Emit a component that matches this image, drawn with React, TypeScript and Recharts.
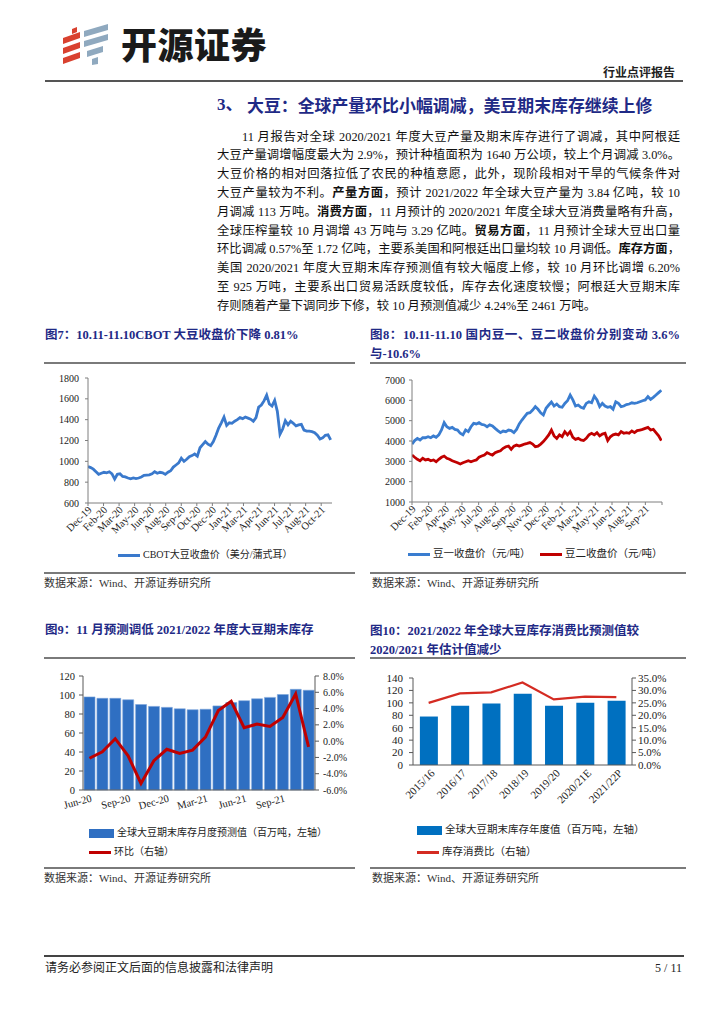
import React from 'react';
import { LineChart, Line, XAxis, YAxis, ComposedChart, Bar } from 'recharts';

// ---- data ----

// 图7: CBOT soybean close (US cents/bushel), sampled roughly weekly
const CBOT_PRICE = [
  950, 940, 925, 900, 875, 885, 895, 890, 900, 880,
  830, 875, 880, 855, 850, 840, 832, 840, 835, 840,
  850, 865, 868, 870, 880, 900, 885, 895, 890, 875,
  895, 910, 945, 965, 985, 1030, 1000, 1020, 1045, 1055,
  1070, 1050, 1130, 1160, 1190, 1165, 1150, 1190, 1250, 1320,
  1370, 1425, 1345, 1370, 1365, 1385, 1400, 1420, 1410, 1425,
  1415, 1405, 1385, 1420, 1520, 1540, 1580, 1635, 1550, 1530,
  1585, 1480, 1260, 1310, 1390, 1350, 1385, 1365, 1340, 1350,
  1355, 1300, 1290, 1290, 1285, 1275, 1250, 1215, 1225, 1250,
  1255, 1205,
];
const CBOT_LABELS = ['Dec-19', 'Feb-20', 'Mar-20', 'May-20', 'Jun-20', 'Aug-20', 'Sep-20', 'Oct-20',
  'Dec-20', 'Jan-21', 'Mar-21', 'Apr-21', 'Jun-21', 'Jul-21', 'Aug-21', 'Oct-21'];

// 图8: 豆一 / 豆二 close (元/吨)
const DOU1 = [
  3850, 4020, 4130, 4050, 4160, 4160, 4210, 4160, 4250, 4180,
  4300, 4540, 4900, 4700, 4620, 4670, 4570, 4540, 4380, 4300,
  4540, 4460, 4700, 4870, 4840, 4900, 4820, 4790, 4700, 4790,
  4740, 4620, 4510, 4410, 4490, 4460, 4540, 4510, 4410, 4570,
  4840, 5030, 5200, 5360, 5390, 5520, 5690, 5560, 5390, 5280,
  5610, 5770, 5920, 5720, 5820, 5690, 5660, 5850, 5980, 6260,
  6020, 5720, 5770, 5660, 5610, 5850, 5930, 5880, 6210, 6020,
  5690, 5850, 5720, 5660, 5690, 5560, 5930, 5850, 5690, 5720,
  5790, 5820, 5880, 5850, 5880, 5930, 5980, 6020, 6180, 6050,
  6150, 6260, 6380, 6500,
];
const DOU2 = [
  3310, 3200, 3100, 3030, 3150, 3070, 3100, 3030, 3070, 2980,
  3100, 3200, 3260, 3150, 3100, 3030, 2980, 2930, 2870, 2930,
  2980, 3030, 2980, 3030, 3070, 3200, 3260, 3310, 3430, 3360,
  3310, 3430, 3480, 3520, 3640, 3720, 3750, 3590, 3750, 3800,
  3750, 3800, 3850, 3880, 3920, 3850, 3720, 3750, 3850, 3970,
  4130, 4300, 4540, 4250, 4130, 4300, 4210, 4460, 4300, 4460,
  4180, 4080, 4130, 4050, 4020, 4130, 4300, 4380, 4300, 4410,
  4250, 4340, 4380, 4020, 4210, 4300, 4340, 4300, 4460, 4380,
  4410, 4380, 4490, 4410, 4510, 4540, 4570, 4620, 4670, 4540,
  4570, 4410, 4250, 4020,
];
const DOU_LABELS = ['Dec-19', 'Feb-20', 'Apr-20', 'May-20', 'Jul-20', 'Aug-20', 'Sep-20', 'Nov-20',
  'Dec-20', 'Feb-21', 'Mar-21', 'May-21', 'Jun-21', 'Aug-21', 'Sep-21'];

// 图9: monthly forecast of global ending stocks
const MONTHS = ['Jun-20', 'Jul-20', 'Aug-20', 'Sep-20', 'Oct-20', 'Nov-20', 'Dec-20', 'Jan-21', 'Feb-21',
  'Mar-21', 'Apr-21', 'May-21', 'Jun-21', 'Jul-21', 'Aug-21', 'Sep-21', 'Oct-21', 'Nov-21'];
const MONTH_STOCK = [98, 96.5, 96.5, 95, 90, 88, 87, 85.5, 84.5, 85, 88.5, 92, 94, 96, 97.5, 100.5, 106, 105];
const MONTH_MOM = [-2.1, -1.3, 0.3, -1.8, -5.2, -2.4, -1.0, -1.5, -1.1, 0.5, 3.75, 4.9, 1.65, 2.1, 1.8, 2.9, 5.8, -0.7];

// 图10: yearly ending stocks and stock/use ratio
const SEASONS = ['2015/16', '2016/17', '2017/18', '2018/19', '2019/20', '2020/21E', '2021/22P'];
const SEASON_STOCK = [78, 95.5, 99, 114.5, 95.5, 100, 103.5];
const SEASON_RATIO = [25.0, 28.8, 29.2, 33.2, 26.4, 27.5, 27.3];

const BODY = [
  '11 月报告对全球 2020/2021 年度大豆产量及期末库存进行了调减，其中阿根廷',
  '大豆产量调增幅度最大为 2.9%，预计种植面积为 1640 万公顷，较上个月调减 3.0%。',
  '大豆价格的相对回落拉低了农民的种植意愿，此外，现阶段相对干旱的气候条件对',
  '大豆产量较为不利。*产量方面*，预计 2021/2022 年全球大豆产量为 3.84 亿吨，较 10',
  '月调减 113 万吨。*消费方面*，11 月预计的 2020/2021 年度全球大豆消费量略有升高，',
  '全球压榨量较 10 月调增 43 万吨与 3.29 亿吨。*贸易方面*，11 月预计全球大豆出口量',
  '环比调减 0.57%至 1.72 亿吨，主要系美国和阿根廷出口量均较 10 月调低。*库存方面*，',
  '美国 2020/2021 年度大豆期末库存预测值有较大幅度上修，较 10 月环比调增 6.20%',
  '至 925 万吨，主要系出口贸易活跃度较低，库存去化速度较慢；阿根廷大豆期末库',
  '存则随着产量下调同步下修，较 10 月预测值减少 4.24%至 2461 万吨。',
];

const SERIF = "'Liberation Serif', 'Noto Sans CJK SC', serif";
const NAVY = '#1f2a86';
const AXIS = '#7f7f7f';
const DARK_AXIS = '#595959';

const cbotData = CBOT_PRICE.map((v, i) => ({ i, v }));
const CBOT_STEP = 5.83;
const CBOT_TICKS = CBOT_LABELS.map((_, k) => k * CBOT_STEP);

const douData = DOU1.map((v, i) => ({ i, a: v, b: DOU2[i] }));
const DOU_STEP = 6.217;
const DOU_TICKS = [...DOU_LABELS, ''].map((_, k) => k * DOU_STEP);

const monthData = MONTHS.map((m, i) => ({ m, s: MONTH_STOCK[i], r: MONTH_MOM[i] }));
const seasonData = SEASONS.map((m, i) => ({ m, s: SEASON_STOCK[i], r: SEASON_RATIO[i] }));

function angledTick(angle: number, fontSize: number, format: (v: any) => string, dx = 0, dy = 0) {
  return (p: any) => {
    const x = p.x + dx;
    const y = p.y + dy;
    return (
      <text x={x} y={y} transform={`rotate(${angle} ${x} ${y})`} textAnchor="end"
        dominantBaseline="central" fontSize={fontSize} fontFamily={SERIF} fill="#1a1a1a">
        {format(p.payload.value)}
      </text>
    );
  };
}

const abs = (left: number, top: number, extra: React.CSSProperties = {}): React.CSSProperties => ({
  position: 'absolute', left, top, whiteSpace: 'nowrap', ...extra,
});

const Rule = ({ left, top, width, h = 1.5, color = '#7a7a7a' }: any) => (
  <div style={abs(left, top, { width, height: h, background: color })} />
);

const Title = ({ left, top, children, width }: any) => (
  <div style={abs(left, top, {
    fontFamily: SERIF, fontWeight: 700, fontSize: 12.5, color: NAVY, lineHeight: '18px',
    width, textAlign: width ? 'justify' : 'left', textAlignLast: width ? 'justify' : 'auto',
  })}>{children}</div>
);

const Source = ({ left, top }: any) => (
  <div style={abs(left, top, { fontFamily: SERIF, fontSize: 11, color: '#333', lineHeight: '14px' })}>
    数据来源：Wind、开源证券研究所
  </div>
);

const LegendItem = ({ left, y, color, kind, text, size = 10.5 }: any) => (
  <>
    <div style={abs(left, kind === 'bar' ? y - 4.5 : y - 1.5, {
      width: kind === 'bar' ? 25 : 22, height: kind === 'bar' ? 9 : 3, background: color,
    })} />
    <div style={abs(left + (kind === 'bar' ? 28 : 25), y - 8, {
      fontFamily: SERIF, fontSize: size, lineHeight: '16px', color: '#222',
    })}>{text}</div>
  </>
);

const bodyLine = (s: string) =>
  s.split('*').map((part, k) => (k % 2 ? <b key={k}>{part}</b> : <span key={k}>{part}</span>));

const yTick = (size: number) => ({ fontSize: size, fill: '#1a1a1a', fontFamily: SERIF });

export default function App() {
  return (
    <div style={{ position: 'absolute', left: 0, top: 0, width: 724, height: 1024, background: '#fff', color: '#111' }}>
      {/* header */}
      <svg width={56} height={44} style={{ position: 'absolute', left: 58, top: 22 }}>
        <g fill="#d9412f">
          <polygon points="14,7 19,5 19,10 14,12" />
          <polygon points="5,16 22,10 22,16 5,22" />
          <polygon points="5,26 22,20 22,26 5,32" />
          <polygon points="5,36 22,30 22,36 5,42" />
        </g>
        <g fill="#8fa9bf">
          <polygon points="26,9 50,2 50,8 26,15" />
          <polygon points="26,19 50,12 50,18 26,25" />
          <polygon points="29,29 45,24 45,30 29,35" />
          <polygon points="34,37 40,35 40,42 34,43" />
        </g>
      </svg>
      <div style={abs(121, 19, { fontFamily: "'Noto Sans CJK SC'", fontWeight: 900, fontSize: 36, letterSpacing: 0.5, lineHeight: '48px', color: '#1a1a1a' })}>
        开源证券
      </div>
      <div style={abs(603, 64, { fontFamily: "'Noto Sans CJK SC'", fontWeight: 700, fontSize: 12, lineHeight: '16px', color: '#222' })}>
        行业点评报告
      </div>
      <Rule left={45} top={80} width={638} h={2} color="#555" />

      {/* section heading and text */}
      <div style={abs(217, 94, { fontFamily: SERIF, fontWeight: 700, fontSize: 17, color: NAVY, lineHeight: '22px' })}>3、</div>
      <div style={abs(247, 94, { fontFamily: "'Noto Sans CJK SC'", fontWeight: 700, fontSize: 16.9, color: NAVY, lineHeight: '22px' })}>
        大豆：全球产量环比小幅调减，美豆期末库存继续上修
      </div>
      {BODY.map((line, i) => (
        <div key={i} style={abs(i === 0 ? 242 : 217, 137 + 18.8 * i - 9.4, {
          width: i === 0 ? 438 : 463, fontFamily: SERIF, fontSize: 12.3, lineHeight: '18.8px', color: '#111',
          textAlign: 'justify', textAlignLast: i === BODY.length - 1 ? 'left' : 'justify',
        })}>{bodyLine(line)}</div>
      ))}

      {/* figure 7 */}
      <Title left={45} top={326}>图7：10.11-11.10CBOT 大豆收盘价下降 0.81%</Title>
      <Rule left={44} top={362} width={311} />
      <div style={{ position: 'absolute', left: 40, top: 370 }}>
        <LineChart width={300} height={178} data={cbotData} margin={{ top: 8, right: 8, left: 0, bottom: 0 }}>
          <XAxis dataKey="i" type="number" domain={[0, 91.5]} allowDataOverflow ticks={CBOT_TICKS} interval={0}
            height={45} tickSize={3} axisLine={{ stroke: AXIS }} tickLine={{ stroke: AXIS }}
            tick={angledTick(-45, 10.5, (v) => CBOT_LABELS[Math.round(v / CBOT_STEP)] ?? '', 2, 0)} />
          <YAxis domain={[600, 1800]} ticks={[600, 800, 1000, 1200, 1400, 1600, 1800]} interval={0} width={48} tickSize={3}
            tickMargin={6} axisLine={{ stroke: AXIS }} tickLine={{ stroke: AXIS }} tick={yTick(10)} />
          <Line dataKey="v" stroke="#3a79cc" strokeWidth={2.8} dot={false} isAnimationActive={false} />
        </LineChart>
      </div>
      <LegendItem left={118} y={555} color="#3a79cc" kind="line" text="CBOT大豆收盘价（美分/蒲式耳）" size={10} />
      <Rule left={44} top={572} width={311} />
      <Source left={44} top={576} />

      {/* figure 8 */}
      <Title left={370} top={326} width={310}>图8：10.11-11.10 国内豆一、豆二收盘价分别变动 3.6%</Title>
      <Title left={370} top={345}>与-10.6%</Title>
      <Rule left={370} top={362} width={316} />
      <div style={{ position: 'absolute', left: 360, top: 372 }}>
        <LineChart width={310} height={175} data={douData} margin={{ top: 8, right: 8, left: 0, bottom: 0 }}>
          <XAxis dataKey="i" type="number" domain={[0, 93.25]} allowDataOverflow ticks={DOU_TICKS} interval={0}
            height={45} tickSize={3} axisLine={{ stroke: AXIS }} tickLine={{ stroke: AXIS }}
            tick={angledTick(-45, 10.5, (v) => DOU_LABELS[Math.round(v / DOU_STEP)] ?? '', 2, 0)} />
          <YAxis domain={[1000, 7000]} ticks={[1000, 2000, 3000, 4000, 5000, 6000, 7000]} interval={0} width={52} tickSize={3}
            tickMargin={4} axisLine={{ stroke: AXIS }} tickLine={{ stroke: AXIS }} tick={yTick(10)} />
          <Line dataKey="a" stroke="#3a7dd0" strokeWidth={2.8} dot={false} isAnimationActive={false} />
          <Line dataKey="b" stroke="#c00000" strokeWidth={2.8} dot={false} isAnimationActive={false} />
        </LineChart>
      </div>
      <LegendItem left={408} y={554} color="#3a7dd0" kind="line" text="豆一收盘价（元/吨）" />
      <LegendItem left={540} y={554} color="#c00000" kind="line" text="豆二收盘价（元/吨）" />
      <Rule left={370} top={572} width={316} />
      <Source left={372} top={576} />

      {/* figure 9 */}
      <Title left={45} top={621}>图9：11 月预测调低 2021/2022 年度大豆期末库存</Title>
      <Rule left={44} top={657} width={311} />
      <div style={{ position: 'absolute', left: 40, top: 668 }}>
        <ComposedChart width={320} height={147} data={monthData} margin={{ top: 8, right: 0, left: 0, bottom: 0 }}
          barCategoryGap="8%">
          <XAxis dataKey="m" interval={2} height={25} tickSize={3} tickLine={false}
            axisLine={{ stroke: DARK_AXIS }} tick={angledTick(-15, 10.5, (v) => v, 2, 3)} />
          <YAxis yAxisId="l" domain={[0, 120]} ticks={[0, 20, 40, 60, 80, 100, 120]} interval={0} width={43} tickSize={4}
            tickMargin={4} axisLine={{ stroke: DARK_AXIS }} tickLine={{ stroke: DARK_AXIS }} tick={yTick(10.5)} />
          <YAxis yAxisId="r" orientation="right" domain={[-6, 8]} ticks={[-6, -4, -2, 0, 2, 4, 6, 8]} interval={0} width={45}
            tickSize={4} tickMargin={4} axisLine={{ stroke: DARK_AXIS }} tickLine={{ stroke: DARK_AXIS }}
            tick={yTick(10)} tickFormatter={(v) => `${v.toFixed(1)}%`} />
          <Bar yAxisId="l" dataKey="s" fill="#2f6fc2" stroke="#7ea6dc" strokeWidth={0.6} isAnimationActive={false} />
          <Line yAxisId="r" dataKey="r" stroke="#c00000" strokeWidth={3} dot={false} isAnimationActive={false} />
        </ComposedChart>
      </div>
      <LegendItem left={89} y={833} color="#2f6fc2" kind="bar" text="全球大豆期末库存月度预测值（百万吨，左轴）" size={10} />
      <LegendItem left={89} y={852} color="#c00000" kind="line" text="环比（右轴）" size={10} />
      <Rule left={44} top={867} width={311} />
      <Source left={44} top={871} />

      {/* figure 10 */}
      <Title left={370} top={622}>图10：2021/2022 年全球大豆库存消费比预测值较</Title>
      <Title left={370} top={641}>2020/2021 年估计值减少</Title>
      <Rule left={370} top={657} width={316} />
      <div style={{ position: 'absolute', left: 360, top: 670 }}>
        <ComposedChart width={320} height={140} data={seasonData} margin={{ top: 8, right: 0, left: 0, bottom: 0 }}
          barCategoryGap="22%">
          <XAxis dataKey="m" interval={0} height={45} tickSize={3} tickLine={false}
            axisLine={{ stroke: DARK_AXIS }} tick={angledTick(-45, 11, (v) => v, 4, 1)} />
          <YAxis yAxisId="l" domain={[0, 140]} ticks={[0, 20, 40, 60, 80, 100, 120, 140]} interval={0} width={53} tickSize={4}
            tickMargin={6} axisLine={{ stroke: DARK_AXIS }} tickLine={{ stroke: DARK_AXIS }} tick={yTick(11)} />
          <YAxis yAxisId="r" orientation="right" domain={[0, 35]} ticks={[0, 5, 10, 15, 20, 25, 30, 35]} interval={0} width={48}
            tickSize={4} tickMargin={2} axisLine={{ stroke: DARK_AXIS }} tickLine={{ stroke: DARK_AXIS }}
            tick={yTick(11)} tickFormatter={(v) => `${v.toFixed(1)}%`} />
          <Bar yAxisId="l" dataKey="s" fill="#0070c0" isAnimationActive={false} />
          <Line yAxisId="r" dataKey="r" stroke="#d42b22" strokeWidth={2.2} dot={false} isAnimationActive={false} />
        </ComposedChart>
      </div>
      <LegendItem left={417} y={830} color="#0070c0" kind="bar" text="全球大豆期末库存年度值（百万吨，左轴）" />
      <LegendItem left={417} y={852} color="#d42b22" kind="line" text="库存消费比（右轴）" />
      <Rule left={370} top={867} width={316} />
      <Source left={372} top={871} />

      {/* footer */}
      <Rule left={44} top={955} width={640} h={2} color="#444" />
      <div style={abs(45, 960, { fontFamily: SERIF, fontSize: 12, lineHeight: '16px', color: '#222' })}>
        请务必参阅正文后面的信息披露和法律声明
      </div>
      <div style={abs(640, 960, { width: 42, textAlign: 'right', fontFamily: SERIF, fontSize: 12, lineHeight: '16px', color: '#222' })}>
        5 / 11
      </div>
    </div>
  );
}
